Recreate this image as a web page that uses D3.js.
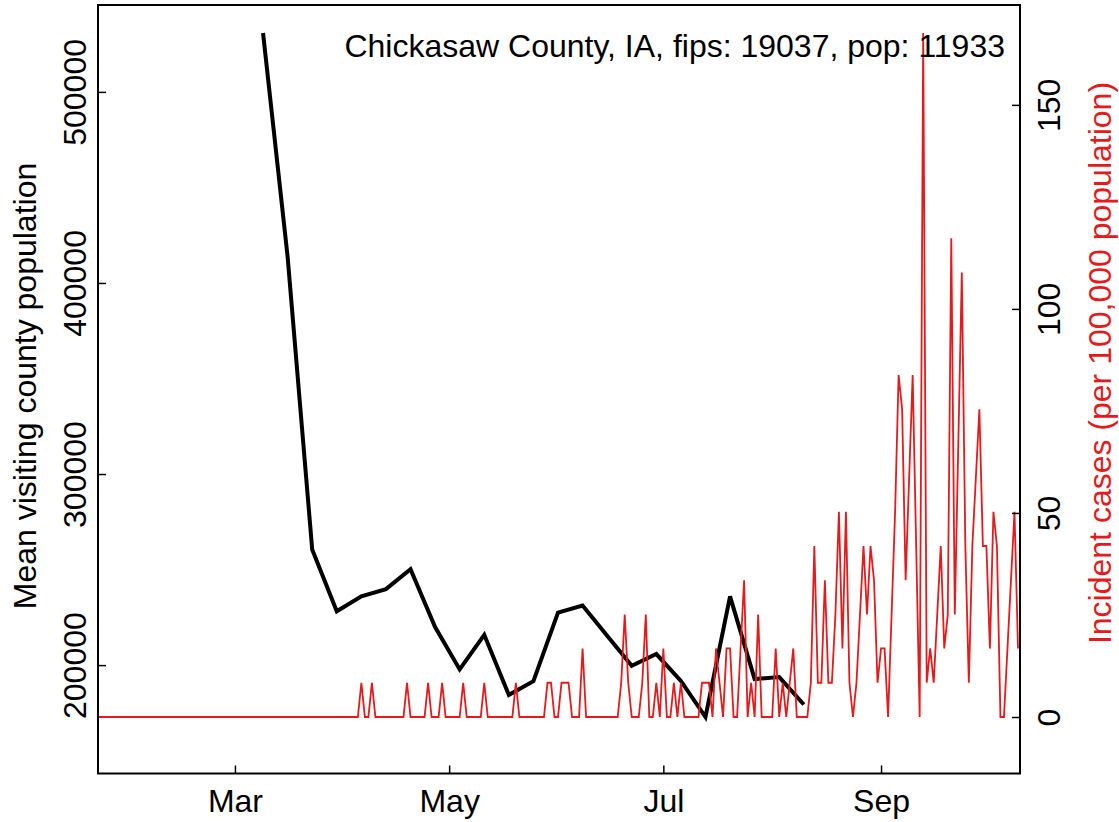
<!DOCTYPE html>
<html>
<head>
<meta charset="utf-8">
<script src="https://cdn.jsdelivr.net/npm/d3@7/dist/d3.min.js"></script>
<style>
  html, body { margin: 0; padding: 0; background: #fff; }
  svg text { font-family: "Liberation Sans", Arial, Helvetica, sans-serif; }
</style>
</head>
<body>
<script>
// ---------------- DATA ----------------
const titleText = "Chickasaw County, IA, fips: 19037, pop: 11933";
const leftLabel = "Mean visiting county population";
const rightLabel = "Incident cases (per 100,000 population)";

// daily series starts at this date, one value per day
const dailyStart = "2020-01-22";
// incident cases per 100,000 population (daily)
const dailyIncidence = [
  0,0,0,0,0,0,0,0,0,0,0,0,0,0,0,
  0,0,0,0,0,0,0,0,0,0,0,0,0,0,0,
  0,0,0,0,0,0,0,0,0,0,0,0,0,0,0,
  0,0,0,0,0,0,0,0,0,0,0,0,0,0,0,
  0,0,0,0,0,0,0,0,0,0,0,0,0,0,0,
  8.4,0,0,8.4,0,
  0,0,0,0,0,0,0,0,8.4,0,
  0,0,0,0,8.4,0,0,0,8.4,0,
  0,0,0,0,8.4,0,0,0,0,0,
  8.4,0,0,0,0,0,0,0,0,8.4,
  0,0,0,0,0,0,0,0,8.4,8.4,
  0,0,8.4,8.4,8.4,0,0,0,16.8,0,
  0,0,0,0,0,0,0,0,0,8.4,
  25.1,8.4,0,0,0,8.4,25.1,0,0,8.4,
  0,16.8,0,0,8.4,0,8.4,0,0,0,
  0,0,8.4,8.4,8.4,0,16.8,8.4,0,16.8,
  16.8,0,0,16.8,33.5,0,8.4,0,25.1,0,
  0,0,0,16.8,0,8.4,0,8.4,16.8,0,
  0,0,0,8.4,41.9,8.4,8.4,33.5,8.4,8.4,
  25.1,50.3,16.8,50.3,8.4,0,8.4,25.1,41.9,25.1,
  41.9,33.5,8.4,16.8,16.8,0,25.1,50.3,83.8,75.4,
  33.5,58.7,83.8,41.9,0,167.6,8.4,16.8,8.4,25.1,
  41.9,16.8,25.1,117.3,25.1,67,108.9,41.9,8.4,41.9,
  58.7,75.4,41.9,41.9,16.8,50.3,41.9,0,0,16.8,
  33.5,50.3,16.8
];

// weekly series starts at this date, one value per week
const weeklyStart = "2020-03-09";
const weeklyVisiting = [
  530800, 413700, 260530, 228180, 235980, 239750, 250220, 219880,
  197740, 215860, 184410, 191560, 227430, 231200, 215350, 199650,
  205790, 191700, 172840, 235980, 192710, 193720, 179380
];

const xTickDates = ["2020-03-01", "2020-05-01", "2020-07-01", "2020-09-01"];
const xTickLabels = ["Mar", "May", "Jul", "Sep"];
const leftTicks = [200000, 300000, 400000, 500000];
const rightTicks = [0, 50, 100, 150];

// ---------------- BUILD ----------------
const W = 1119, H = 822;
const plot = { left: 98, right: 1018, top: 5, bottom: 773.5 };
const FONT = 32;
const RED = "#e41a1c";
const PAD_TOP = 0.041, PAD_BOTTOM = 0.0826;

const parse = d3.utcParse("%Y-%m-%d");
const dStart = parse(dailyStart);
const dailyDates = dailyIncidence.map((_, i) => d3.utcDay.offset(dStart, i));
const wStart = parse(weeklyStart);
const weeklyDates = weeklyVisiting.map((_, i) => d3.utcDay.offset(wStart, 7 * i));

const daily = dailyDates.map((d, i) => ({ date: d, v: dailyIncidence[i] }));
const weekly = weeklyDates.map((d, i) => ({ date: d, v: weeklyVisiting[i] }));

function padExtent(arr) {
  const [a, b] = d3.extent(arr);
  const s = b - a;
  return [a - s * PAD_BOTTOM, b + s * PAD_TOP];
}

const x = d3.scaleUtc()
  .domain(d3.extent(dailyDates))
  .range([plot.left, plot.right]);

const yL = d3.scaleLinear().domain(padExtent(weeklyVisiting)).range([plot.bottom, plot.top]);
const yR = d3.scaleLinear().domain(padExtent(dailyIncidence)).range([plot.bottom, plot.top]);

const svg = d3.select("body").append("svg")
  .attr("width", W).attr("height", H)
  .attr("viewBox", `0 0 ${W} ${H}`);

svg.append("rect").attr("width", W).attr("height", H).attr("fill", "#fff");

// black weekly line
svg.append("path")
  .datum(weekly)
  .attr("fill", "none")
  .attr("stroke", "#000")
  .attr("stroke-width", 4)
  .attr("stroke-linejoin", "miter")
  .attr("d", d3.line().x(d => x(d.date)).y(d => yL(d.v)));

// red daily line
svg.append("path")
  .datum(daily)
  .attr("fill", "none")
  .attr("stroke", RED)
  .attr("stroke-width", 1.8)
  .attr("d", d3.line().x(d => x(d.date)).y(d => yR(d.v)));

// box
svg.append("rect")
  .attr("x", plot.left).attr("y", plot.top)
  .attr("width", plot.right - plot.left + 2)
  .attr("height", plot.bottom - plot.top)
  .attr("fill", "none").attr("stroke", "#000").attr("stroke-width", 2);

// bottom axis
const xAxis = d3.axisBottom(x)
  .tickValues(xTickDates.map(parse))
  .tickFormat((d, i) => xTickLabels[i])
  .tickSize(-8);
const gx = svg.append("g").attr("transform", `translate(0,${plot.bottom})`).call(xAxis);
gx.select(".domain").remove();
gx.selectAll(".tick line").attr("stroke", "#000").attr("stroke-width", 1.5);
gx.selectAll(".tick text")
  .attr("y", 38).attr("dy", null)
  .attr("font-size", FONT).attr("fill", "#000")
  .attr("font-family", "Liberation Sans, Arial, sans-serif");

// left axis
const yAxisL = d3.axisLeft(yL).tickValues(leftTicks).tickFormat(d3.format("d")).tickSize(-8);
const gl = svg.append("g").attr("transform", `translate(${plot.left},0)`).call(yAxisL);
gl.select(".domain").remove();
gl.selectAll(".tick line").attr("stroke", "#000").attr("stroke-width", 1.5);
gl.selectAll(".tick text")
  .attr("x", null).attr("dy", null)
  .attr("text-anchor", "middle")
  .attr("transform", "translate(-12,0) rotate(-90)")
  .attr("font-size", FONT).attr("fill", "#000")
  .attr("font-family", "Liberation Sans, Arial, sans-serif");

// right axis
const yAxisR = d3.axisRight(yR).tickValues(rightTicks).tickFormat(d3.format("d")).tickSize(-8);
const gr = svg.append("g").attr("transform", `translate(${plot.right + 2},0)`).call(yAxisR);
gr.select(".domain").remove();
gr.selectAll(".tick line").attr("stroke", "#000").attr("stroke-width", 1.5);
gr.selectAll(".tick text")
  .attr("x", null).attr("dy", null)
  .attr("text-anchor", "middle")
  .attr("transform", "translate(40,0) rotate(-90)")
  .attr("font-size", FONT).attr("fill", "#000")
  .attr("font-family", "Liberation Sans, Arial, sans-serif");

// axis titles
svg.append("text")
  .attr("transform", `translate(36,386) rotate(-90)`)
  .attr("text-anchor", "middle")
  .attr("font-size", FONT).attr("fill", "#000")
  .text(leftLabel);

svg.append("text")
  .attr("transform", `translate(1111,363) rotate(-90)`)
  .attr("text-anchor", "middle")
  .attr("font-size", FONT).attr("fill", RED)
  .text(rightLabel);

// title inside plot
svg.append("text")
  .attr("x", 1005).attr("y", 57)
  .attr("text-anchor", "end")
  .attr("font-size", FONT).attr("fill", "#000")
  .text(titleText);
</script>
</body>
</html>
